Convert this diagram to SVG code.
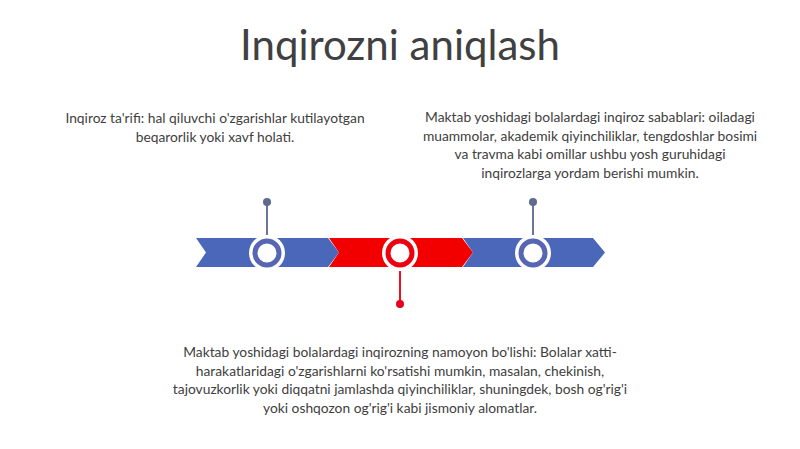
<svg xmlns="http://www.w3.org/2000/svg" width="800" height="449" viewBox="0 0 800 449">
<style>
.t{font-family:Lato,"Open Sans","Liberation Sans",sans-serif;fill:#404040;text-anchor:middle}
.b{font-size:13.8px}
.blue{fill:#4a67b9}
.red{fill:#f20000}
</style>
<rect width="800" height="449" fill="#fff"/>
<text class="t" x="400" y="60" font-size="42">Inqirozni aniqlash</text>
<g id="connectors">
<line x1="267" y1="202" x2="267" y2="236" stroke="#6a7597" stroke-width="2"/>
<circle cx="267" cy="202" r="4" fill="#5f6b8e"/>
<line x1="533" y1="202" x2="533" y2="236" stroke="#6a7597" stroke-width="2"/>
<circle cx="533" cy="202" r="4" fill="#5f6b8e"/>
<line x1="400" y1="270" x2="400" y2="304" stroke="#f01020" stroke-width="2"/>
<circle cx="400" cy="304" r="4" fill="#e8001a"/>
</g>
<g id="band1"><polygon class="blue" points="196,238 328,238 339,252.5 328,267 196,267 206,252.5"/></g>
<g id="band2"><polygon class="red" points="329,238 462,238 473,252.5 462,267 329,267 339,252.5"/></g>
<g id="band3"><polygon class="blue" points="463,238 593,238 605,252.5 593,267 463,267 473,252.5"/></g>
<g id="m1"><circle cx="267" cy="253" r="18" fill="#fff"/><circle cx="267" cy="253" r="12" fill="none" stroke="#5865b5" stroke-width="5"/></g>
<g id="m2"><circle cx="400" cy="253" r="18" fill="#fff"/><circle cx="400" cy="253" r="12" fill="none" stroke="#ee0010" stroke-width="5"/></g>
<g id="m3"><circle cx="533" cy="253" r="18" fill="#fff"/><circle cx="533" cy="253" r="12" fill="none" stroke="#5865b5" stroke-width="5"/></g>
<g id="n1"><text class="t b" x="215" y="123">Inqiroz ta'rifi: hal qiluvchi o'zgarishlar kutilayotgan</text><text class="t b" x="215" y="142">beqarorlik yoki xavf holati.</text></g>
<g id="n2"><text class="t b" x="590" y="122">Maktab yoshidagi bolalardagi inqiroz sabablari: oiladagi</text><text class="t b" x="590" y="140.5">muammolar, akademik qiyinchiliklar, tengdoshlar bosimi</text><text class="t b" x="590" y="159">va travma kabi omillar ushbu yosh guruhidagi</text><text class="t b" x="590" y="177.5">inqirozlarga yordam berishi mumkin.</text></g>
<g id="n3"><text class="t b" x="400" y="357">Maktab yoshidagi bolalardagi inqirozning namoyon bo'lishi: Bolalar xatti-</text><text class="t b" x="400" y="375.5">harakatlaridagi o'zgarishlarni ko'rsatishi mumkin, masalan, chekinish,</text><text class="t b" x="400" y="394">tajovuzkorlik yoki diqqatni jamlashda qiyinchiliklar, shuningdek, bosh og'rig'i</text><text class="t b" x="400" y="412.5">yoki oshqozon og'rig'i kabi jismoniy alomatlar.</text></g>
</svg>
